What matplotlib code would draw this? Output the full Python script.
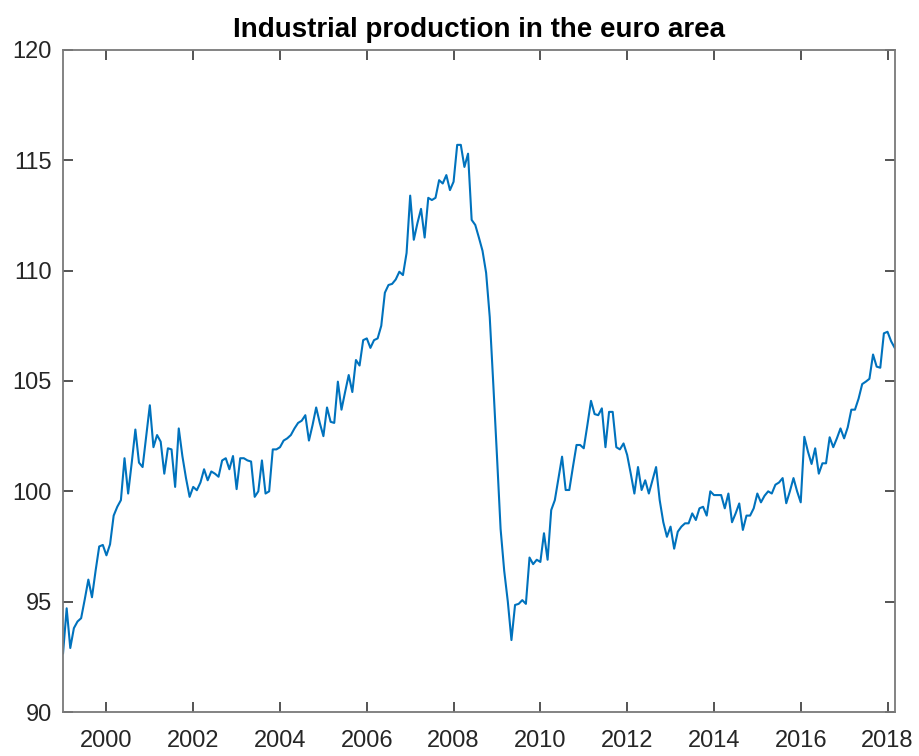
import numpy as np
import matplotlib.pyplot as plt

# -----------------------------------------------------------------------------------------+
# Monthly industrial production index, euro area (Jan 1999 - Mar 2018)

ip_1999 = [92.66, 94.7, 92.9, 93.8, 94.1, 94.25, 95.1, 96.0, 95.2, 96.4, 97.5, 97.57]
ip_2000 = [97.1, 97.6, 98.9, 99.3, 99.6, 101.5, 99.9, 101.3, 102.8, 101.3, 101.1, 102.5]
ip_2001 = [103.9, 102.0, 102.55, 102.25, 100.8, 101.95, 101.9, 100.2, 102.85, 101.6, 100.6, 99.75]
ip_2002 = [100.2, 100.05, 100.4, 101.0, 100.5, 100.9, 100.8, 100.66, 101.4, 101.5, 101.0, 101.6]
ip_2003 = [100.1, 101.5, 101.5, 101.4, 101.35, 99.75, 100.0, 101.4, 99.9, 100.0, 101.9, 101.9]
ip_2004 = [102.0, 102.3, 102.4, 102.55, 102.85, 103.1, 103.2, 103.45, 102.3, 103.0, 103.8, 103.1]
ip_2005 = [102.5, 103.8, 103.15, 103.1, 104.97, 103.7, 104.5, 105.27, 104.5, 105.95, 105.7, 106.85]
ip_2006 = [106.93, 106.5, 106.85, 106.93, 107.5, 109.0, 109.35, 109.4, 109.6, 109.95, 109.8, 110.8]
ip_2007 = [113.4, 111.4, 112.15, 112.8, 111.5, 113.3, 113.2, 113.3, 114.1, 113.95, 114.33, 113.65]
ip_2008 = [114.03, 115.7, 115.7, 114.7, 115.3, 112.3, 112.07, 111.5, 110.9, 109.9, 107.9, 104.8]
ip_2009 = [101.6, 98.3, 96.4, 95.0, 93.26, 94.85, 94.9, 95.07, 94.9, 97.0, 96.7, 96.9]
ip_2010 = [96.8, 98.1, 96.9, 99.15, 99.6, 100.6, 101.57, 100.06, 100.06, 101.1, 102.1, 102.1]
ip_2011 = [101.95, 103.0, 104.1, 103.5, 103.45, 103.76, 102.0, 103.6, 103.6, 102.0, 101.9, 102.17]
ip_2012 = [101.65, 100.8, 99.9, 101.1, 100.06, 100.5, 99.9, 100.5, 101.1, 99.6, 98.6, 97.94]
ip_2013 = [98.4, 97.4, 98.17, 98.4, 98.55, 98.55, 99.0, 98.7, 99.23, 99.3, 98.9, 100.0]
ip_2014 = [99.83, 99.83, 99.83, 99.23, 99.9, 98.6, 99.0, 99.45, 98.25, 98.9, 98.9, 99.23]
ip_2015 = [99.9, 99.5, 99.8, 100.0, 99.9, 100.3, 100.4, 100.6, 99.46, 100.0, 100.6, 100.0]
ip_2016 = [99.5, 102.47, 101.8, 101.24, 101.95, 100.8, 101.27, 101.27, 102.45, 102.0, 102.4, 102.85]
ip_2017 = [102.4, 102.9, 103.7, 103.7, 104.2, 104.86, 104.97, 105.1, 106.2, 105.65, 105.6, 107.16]
ip_2018 = [107.23, 106.8, 106.5]

ip = np.array(ip_1999 + ip_2000 + ip_2001 + ip_2002 + ip_2003 + ip_2004 + ip_2005
              + ip_2006 + ip_2007 + ip_2008 + ip_2009 + ip_2010 + ip_2011 + ip_2012
              + ip_2013 + ip_2014 + ip_2015 + ip_2016 + ip_2017 + ip_2018)
time = 1999 + np.arange(len(ip)) / 12.

year_ticks = [2000, 2002, 2004, 2006, 2008, 2010, 2012, 2014, 2016, 2018]
ip_ticks = [90, 95, 100, 105, 110, 115, 120]

# -----------------------------------------------------------------------------------------+

plt.rcParams['font.family'] = ['Liberation Sans', 'DejaVu Sans']
axcol = '#262626'

fig = plt.figure(figsize=(9.19, 7.56), dpi=100)
ax = fig.add_axes([0.0686, 0.0582, 0.905, 0.8757])

ax.plot(time, ip, color='#0072BD', lw=1.5)

ax.set_xlim(time[0], time[-1])
ax.set_ylim(90, 120)
ax.set_xticks(year_ticks)
ax.set_yticks(ip_ticks)
ax.tick_params(direction='in', length=7, width=1.1, colors=axcol, labelsize=17,
               top=True, right=True)
ax.tick_params(axis='y', pad=8)
ax.tick_params(axis='x', pad=13)
for s in ax.spines.values():
    s.set_color('#7a7a7a')
    s.set_linewidth(1.3)

ax.set_title('Industrial production in the euro area', fontsize=20, fontweight='bold',
             color='black', pad=9)

fig.savefig('out.png', dpi=100)
